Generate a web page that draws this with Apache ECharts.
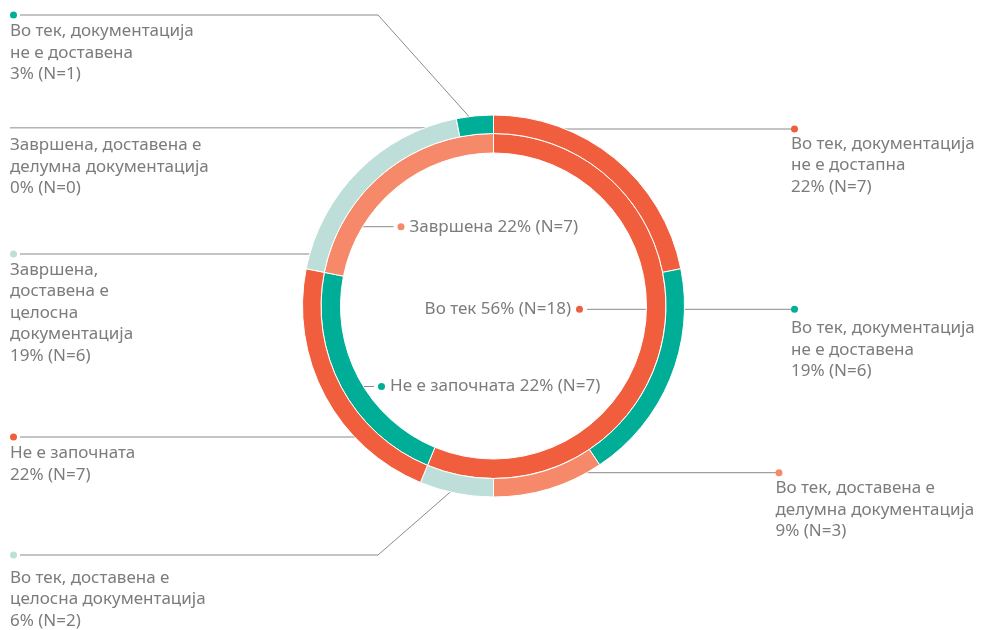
<!DOCTYPE html>
<html>
<head>
<meta charset="utf-8">
<script src="https://cdn.jsdelivr.net/npm/echarts@6/dist/echarts.min.js"></script>
<style>
  html, body { margin: 0; padding: 0; background: #fff; }
  #chart { width: 984px; height: 630px; }
</style>
</head>
<body>
<div id="chart"></div>
<script>
// inner ring: status
const innerNames = ['Во тек', 'Не е започната', 'Завршена'];
const innerValues = [18, 7, 7];

// outer ring: status + documentation
const outerNames = [
  'Во тек, документација\nне е достапна',
  'Во тек, документација\nне е доставена',
  'Во тек, доставена е\nделумна документација',
  'Во тек, доставена е\nцелосна документација',
  'Не е започната',
  'Завршена,\nдоставена е\nцелосна\nдокументација',
  'Завршена, доставена е\nделумна документација',
  'Во тек, документација\nне е доставена'
];
const outerValues = [7, 6, 3, 2, 7, 6, 0, 1];

const RED = '#F15E3D', TEAL = '#00AE98', SALMON = '#F6896A', LIGHT = '#BEDFD9';
const innerColors = [RED, TEAL, SALMON];
const outerColors = [RED, TEAL, SALMON, LIGHT, RED, LIGHT, LIGHT, TEAL];

const cx = 493.5, cy = 306;
const TEXT = '#7c7c7c', LINE = '#8a8a8a';
const FONT = 'Noto Sans';

// where each outer label sits (dot centre) and gap from dot to first text row
const outerPos = [
  { side: 'right', x: 791, y: 129, gap: 15 },
  { side: 'right', x: 791, y: 309.3, gap: 19 },
  { side: 'right', x: 775.5, y: 472.7, gap: 15.5 },
  { side: 'left', x: 10, y: 555, gap: 23, elbow: 378 },
  { side: 'left', x: 10, y: 437, gap: 16.5 },
  { side: 'left', x: 10, y: 254, gap: 16 },
  { side: 'left', x: 10, y: 127.7, gap: 17.5, noDot: true },
  { side: 'left', x: 10, y: 15, gap: 16.5, elbow: 378 }
];
const innerPos = [
  { align: 'right', x: 583, y: 309.3 },
  { align: 'left', x: 378, y: 386.5 },
  { align: 'left', x: 397.5, y: 226.7 }
];

const sum = arr => arr.reduce((a, b) => a + b, 0);
const pct = (v, arr) => Math.round(v / sum(arr) * 100) + '%';

function ringX(r, y, side) {
  const dy = y - cy;
  return cx + (side === 'left' ? -1 : 1) * Math.sqrt(r * r - dy * dy);
}
function midPoint(values, i, r) {
  const before = sum(values.slice(0, i));
  const a = (before + values[i] / 2) / sum(values) * Math.PI * 2;
  return [cx + r * Math.sin(a), cy - r * Math.cos(a)];
}

const outerData = outerValues.map((v, i) => {
  const p = outerPos[i];
  const text = outerNames[i] + '\n' + pct(v, outerValues) + ' (N=' + v + ')';
  const item = {
    name: outerNames[i],
    value: v,
    itemStyle: { color: outerColors[i] },
    label: {
      formatter: (p.noDot ? '{nodot| }' : '{dot| }') + '\n' + text,
      rich: {
        dot: {
          width: 7, height: 7, borderRadius: 3.5,
          backgroundColor: outerColors[i],
          lineHeight: 2 * (p.gap - 10.75)
        },
        nodot: { width: 7, height: 7, lineHeight: 2 * (p.gap - 10.75) }
      }
    }
  };
  if (p.noDot) {
    item.labelLine = { lineStyle: { color: '#b4b4b4', width: 1.5 } };
  }
  return item;
});

const innerData = innerValues.map((v, i) => {
  const text = innerNames[i] + ' ' + pct(v, innerValues) + ' (N=' + v + ')';
  return {
    name: innerNames[i],
    value: v,
    itemStyle: { color: innerColors[i] },
    label: {
      formatter: innerPos[i].align === 'right'
        ? text + '{sp| }{dot| }'
        : '{dot| }{sp| }' + text,
      rich: {
        dot: { width: 7, height: 7, borderRadius: 3.5, backgroundColor: innerColors[i] },
        sp: { width: 5 }
      }
    }
  };
});

const baseLabel = {
  show: true,
  position: 'outside',
  fontFamily: FONT,
  fontSize: 17,
  color: TEXT,
  lineHeight: 21.5
};

const myChart = echarts.init(document.getElementById('chart'));

const option = {
  animation: false,
  series: [
    {
      name: 'inner',
      type: 'pie',
      center: [cx, cy],
      radius: [153, 172.5],
      startAngle: 90,
      avoidLabelOverlap: false,
      emphasis: { disabled: true },
      itemStyle: { borderColor: '#fff', borderWidth: 1 },
      label: baseLabel,
      labelLine: { show: true, lineStyle: { color: LINE, width: 1 } },
      labelLayout: function (params) {
        const p = innerPos[params.dataIndex];
        const side = p.align === 'right' ? 'right' : 'left';
        const start = [ringX(163, p.y, side), p.y];
        const end = side === 'right' ? [p.x + 4, p.y] : [p.x - 4, p.y];
        return {
          x: p.x, y: p.y, align: p.align, verticalAlign: 'middle',
          labelLinePoints: [start, end, end]
        };
      },
      data: innerData
    },
    {
      name: 'outer',
      type: 'pie',
      center: [cx, cy],
      radius: [172.5, 191],
      startAngle: 90,
      avoidLabelOverlap: false,
      minShowLabelAngle: -1,
      emphasis: { disabled: true },
      itemStyle: { borderColor: '#fff', borderWidth: 1 },
      label: baseLabel,
      labelLine: { show: true, lineStyle: { color: LINE, width: 1 } },
      labelLayout: function (params) {
        const i = params.dataIndex;
        const p = outerPos[i];
        const top = p.y - (p.gap - 10.75);
        let pts;
        if (p.side === 'right') {
          const s = [ringX(182, p.y, 'right'), p.y];
          const e = [p.x + 3.5, p.y];
          pts = [s, e, e];
        } else if (p.elbow) {
          const s = midPoint(outerValues, i, 183);
          pts = [s, [p.elbow, p.y], [p.x + 10, p.y]];
        } else {
          const s = [ringX(182, p.y, 'left'), p.y];
          const e = [p.noDot ? p.x : p.x + 10, p.y];
          pts = [s, e, e];
        }
        return {
          x: p.x, y: top, align: 'left', verticalAlign: 'top',
          labelLinePoints: pts
        };
      },
      data: outerData
    }
  ]
};

myChart.setOption(option);

window.addEventListener('resize', () => {
  myChart.resize();
});
</script>
</body>
</html>
